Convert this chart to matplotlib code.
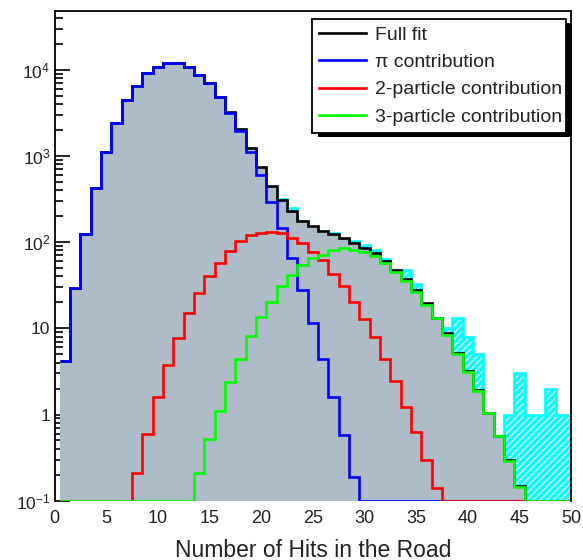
import numpy as np
import matplotlib
matplotlib.use("Agg")
import matplotlib.pyplot as plt
from matplotlib.patches import Rectangle
from matplotlib.ticker import LogLocator, NullFormatter, FixedLocator, FixedFormatter

# ---- data (bin centres = number of hits) ----
hits = np.arange(1, 51)

data_counts = [4, 28, 120, 415, 1090, 2370, 4420, 6440, 9050, 10750,
               11850, 11850, 10750, 8650, 6900, 4800, 3170, 2030, 1230, 730,
               435, 318, 250, 175, 150, 133, 127, 110, 102, 92,
               80, 64, 46, 47, 33, 19, 13, 10, 13, 8,
               5, 1, 0, 1, 3, 1, 1, 2, 1, 1]

full_fit = [4.2, 29, 123, 421, 1100, 2390, 4450, 6470, 9080, 10800,
            11900, 11900, 10820, 8720, 6990, 4840, 3200, 2060, 1250, 745,
            445, 304, 230, 178, 153, 135, 123, 111, 98, 86,
            74, 60, 47.5, 37, 27.5, 19.5, 13.2, 8.75, 5.15, 3.16,
            1.9, 1.04, 0.57, 0.3, 0.15, 0, 0, 0, 0, 0]

pi_contrib = [4.2, 29, 123, 421, 1100, 2390, 4450, 6470, 9080, 10800,
              11900, 11900, 10800, 8700, 6950, 4780, 3120, 1950, 1120, 600,
              294, 144, 65, 27.8, 11.6, 4.36, 1.58, 0.58, 0.19, 0,
              0, 0, 0, 0, 0, 0, 0, 0, 0, 0,
              0, 0, 0, 0, 0, 0, 0, 0, 0, 0]

two_particle = [0, 0, 0, 0, 0, 0, 0, 0.21, 0.6, 1.58,
                3.75, 7.65, 14.9, 25.9, 40.5, 56.7, 79, 104, 120, 127,
                132, 127, 112, 97, 77, 62, 43, 31, 20.4, 12.7,
                7.9, 4.4, 2.45, 1.23, 0.63, 0.30, 0.14, 0, 0, 0,
                0, 0, 0, 0, 0, 0, 0, 0, 0, 0]

three_particle = [0, 0, 0, 0, 0, 0, 0, 0, 0, 0,
                  0, 0, 0, 0.21, 0.515, 1.11, 2.4, 4.4, 8.2, 13.6,
                  20.4, 31, 42, 54, 65, 71, 81, 85, 81, 77,
                  69, 57, 45, 35.6, 26.6, 18.6, 13, 8.4, 5.1, 3.14,
                  1.89, 1.03, 0.56, 0.29, 0.145, 0, 0, 0, 0, 0]

x_ticks = [0, 5, 10, 15, 20, 25, 30, 35, 40, 45, 50]
y_ticks = [0.1, 1, 10, 100, 1000, 10000]
y_ticklabels = ['10$^{-1}$', '1', '10', '10$^{2}$', '10$^{3}$', '10$^{4}$']
x_label = 'Number of Hits in the Road'
legend_labels = ['Full fit', 'π contribution', '2-particle contribution',
                 '3-particle contribution']

# ---- style ----
plt.rcParams['font.family'] = ['Liberation Sans', 'DejaVu Sans']
plt.rcParams['mathtext.default'] = 'regular'
plt.rcParams['hatch.linewidth'] = 0.9

W, H = 583, 560
fig = plt.figure(figsize=(W / 100, H / 100), dpi=100)
ax_l, ax_r, ax_t, ax_b = 54.5, 571.0, 11.0, 500.7
ax = fig.add_axes([ax_l / W, 1 - ax_b / H, (ax_r - ax_l) / W, (ax_b - ax_t) / H])

ymin, ymax = 0.1, 4.8e4
edges = np.append(hits - 0.5, hits[-1] + 0.5)


def clip(v):
    return np.clip(np.asarray(v, dtype=float), ymin, None)


lw = 1.9
# data histogram: cyan with white hatching
ax.stairs(clip(data_counts), edges, baseline=ymin, fill=True,
          facecolor='#00ffff', edgecolor='white', hatch='/////',
          linewidth=0, zorder=1)
ax.stairs(clip(data_counts), edges, baseline=None, color='#00ffff',
          linewidth=lw, zorder=1.1)
# full fit filled grey
ax.stairs(clip(full_fit), edges, baseline=ymin, fill=True,
          facecolor='#aebcc7', edgecolor='none', linewidth=0, zorder=2)
h_fit = ax.stairs(clip(full_fit), edges, baseline=None, color='black',
                  linewidth=lw, zorder=3)
h_pi = ax.stairs(clip(pi_contrib), edges, baseline=None, color='#0000ff',
                 linewidth=lw, zorder=4)
h_2p = ax.stairs(clip(two_particle), edges, baseline=None, color='#ff0000',
                 linewidth=lw, zorder=5)
h_3p = ax.stairs(clip(three_particle), edges, baseline=None, color='#00ff00',
                 linewidth=lw, zorder=6)

ax.set_yscale('log')
ax.set_xlim(0, 50)
ax.set_ylim(ymin, ymax)

# spines
for s in ['left', 'top', 'right']:
    ax.spines[s].set_linewidth(1.3)
    ax.spines[s].set_color('black')
    ax.spines[s].set_zorder(10)
ax.spines['bottom'].set_visible(False)

# ticks
ax.xaxis.set_major_locator(FixedLocator(x_ticks))
ax.tick_params(axis='x', which='both', length=0, labelsize=13, pad=7,
               labelcolor='#222222')
ax.yaxis.set_major_locator(FixedLocator(y_ticks))
ax.yaxis.set_major_formatter(FixedFormatter(y_ticklabels))
ax.yaxis.set_minor_locator(LogLocator(base=10, subs=np.arange(2, 10), numticks=20))
ax.yaxis.set_minor_formatter(NullFormatter())
ax.tick_params(axis='y', which='major', direction='in', length=11, width=1.2,
               labelsize=12.5, pad=3, labelcolor='#222222')
ax.tick_params(axis='y', which='minor', direction='in', length=6, width=1.2)
ax.tick_params(right=False, top=False)

ax.set_xlabel(x_label, fontsize=16.5, labelpad=8, color='#222222')

# legend
lx0 = (312.3 - ax_l) / (ax_r - ax_l)
lx1 = (565.7 - ax_l) / (ax_r - ax_l)
ly1 = 1 - (19.3 - ax_t) / (ax_b - ax_t)
leg = ax.legend([h_fit, h_pi, h_2p, h_3p], legend_labels,
                loc='upper left', bbox_to_anchor=(lx0, 0.5, lx1 - lx0, ly1 - 0.5),
                mode='expand', borderaxespad=0, fontsize=14, frameon=True,
                fancybox=False, framealpha=1, edgecolor='black',
                borderpad=0.35, labelspacing=0.5, handlelength=2.4,
                handletextpad=0.5)
leg.get_frame().set_linewidth(1.3)
leg.set_zorder(20)
for t in leg.get_texts():
    t.set_color('#222222')

fig.canvas.draw()
bb = leg.get_window_extent()
inv = ax.transAxes.inverted()
(sx0, sy0) = inv.transform((bb.x0 + 6, bb.y0 - 4))
(sx1, sy1) = inv.transform((bb.x1 + 6, bb.y1 - 4))
ax.add_patch(Rectangle((sx0, sy0), sx1 - sx0, sy1 - sy0, transform=ax.transAxes,
                       facecolor='black', edgecolor='none', zorder=19,
                       clip_on=False))

fig.savefig('out.png', dpi=100)
